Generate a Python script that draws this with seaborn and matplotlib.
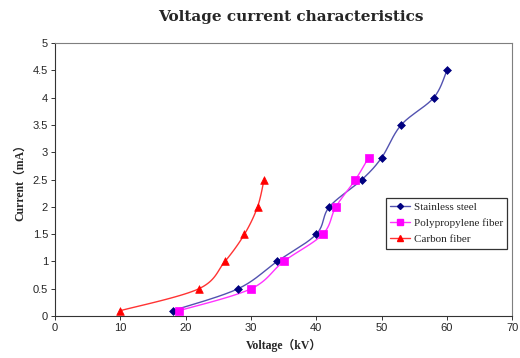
import matplotlib
matplotlib.use("Agg")
import matplotlib.pyplot as plt
import numpy as np
import pandas as pd
import seaborn as sns
from matplotlib.lines import Line2D

# values
steel_kv = [18, 28, 34, 40, 42, 47, 50, 53, 58, 60]
steel_ma = [0.1, 0.5, 1.0, 1.5, 2.0, 2.5, 2.9, 3.5, 4.0, 4.5]
pp_kv = [19, 30, 35, 41, 43, 46, 48]
pp_ma = [0.1, 0.5, 1.0, 1.5, 2.0, 2.5, 2.9]
carbon_kv = [10, 22, 26, 29, 31, 32]
carbon_ma = [0.1, 0.5, 1.0, 1.5, 2.0, 2.5]

SERIF = ["Liberation Serif", "Noto Sans CJK SC"]


def smooth(xs, ys, n=20):
    # Catmull-Rom curve through the data points (like Excel's smoothed line)
    p = np.column_stack([xs, ys]).astype(float)
    p = np.vstack([p[0], p, p[-1]])
    out = []
    t = np.linspace(0, 1, n)[:, None]
    for i in range(1, len(p) - 2):
        p0, p1, p2, p3 = p[i - 1], p[i], p[i + 1], p[i + 2]
        seg = 0.5 * ((2 * p1) + (-p0 + p2) * t + (2 * p0 - 5 * p1 + 4 * p2 - p3) * t ** 2
                     + (-p0 + 3 * p1 - 3 * p2 + p3) * t ** 3)
        out.append(seg)
    c = np.vstack(out)
    return pd.DataFrame({"kv": c[:, 0], "ma": c[:, 1]})


def main():
    sns.set_theme(style="white")
    plt.rcParams["font.family"] = ["Liberation Sans", "DejaVu Sans"]

    fig = plt.figure(figsize=(5.2, 3.58), dpi=100)
    ax = fig.add_axes([0.106, 0.117, 0.879, 0.763])

    series = [
        ("Stainless steel", steel_kv, steel_ma, "#5252b0", "#000080", "D", 4.0),
        ("Polypropylene fiber", pp_kv, pp_ma, "#ff33ff", "#ff00ff", "s", 5.5),
        ("Carbon fiber", carbon_kv, carbon_ma, "#ff3333", "#ff0000", "^", 5.5),
    ]
    handles = []
    for name, xs, ys, lc, mc, mk, ms in series:
        sns.lineplot(data=smooth(xs, ys), x="kv", y="ma", sort=False, color=lc,
                     linewidth=1.0, ax=ax, legend=False)
        pts = pd.DataFrame({"kv": xs, "ma": ys})
        sns.scatterplot(data=pts, x="kv", y="ma", marker=mk, s=ms ** 2, color=mc,
                        edgecolor=mc, linewidth=0.5, ax=ax, legend=False, zorder=3)
        handles.append(Line2D([], [], color=lc, lw=1.0, marker=mk, markersize=ms - 1,
                              markerfacecolor=mc, markeredgecolor=mc, label=name))

    ax.set_xlim(0, 70)
    ax.set_ylim(0, 5)
    ax.set_xticks(range(0, 71, 10))
    ax.set_yticks(np.arange(0, 5.01, 0.5))
    ax.set_yticklabels(["0", "0.5", "1", "1.5", "2", "2.5", "3", "3.5", "4", "4.5", "5"])
    ax.tick_params(axis="both", labelsize=8, length=3, width=0.7, color="#333333",
                   direction="out", bottom=True, left=True, pad=2)
    for s in ax.spines.values():
        s.set_color("#7f7f7f")
        s.set_linewidth(0.8)
    ax.spines["left"].set_color("#333333")
    ax.spines["bottom"].set_color("#333333")

    ax.set_xlabel("Voltage（kV）", fontsize=8.5, fontweight="bold", family=SERIF, labelpad=4)
    ax.set_ylabel("Current（mA）", fontsize=8.5, fontweight="bold", family=SERIF, labelpad=5)
    fig.text(0.56, 0.952, "Voltage current characteristics", ha="center", va="center",
             fontsize=11, fontweight="bold", family=["DejaVu Serif"])

    leg = ax.legend(handles=handles, loc="upper left", bbox_to_anchor=(0.724, 0.432),
                    frameon=True, fancybox=False, edgecolor="black",
                    prop={"family": "Liberation Serif", "size": 8},
                    handlelength=1.8, handletextpad=0.3, borderpad=0.4, labelspacing=0.55,
                    borderaxespad=0)
    leg.get_frame().set_linewidth(0.9)

    fig.savefig("out.png", dpi=100, facecolor="white")
    plt.close(fig)


if __name__ == "__main__":
    main()
